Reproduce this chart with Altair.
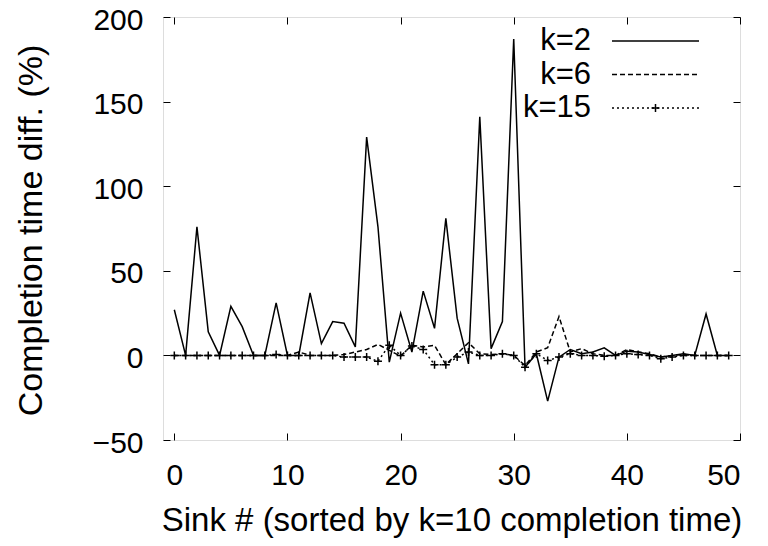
import altair as alt
import pandas as pd

# ---- data ----
sink = list(range(50))
k2 = [27, 0, 76, 14, 0, 29, 17, 0, 0, 31,
      0, 0, 37, 7, 20, 19, 5, 129, 76, -4,
      25, 2, 38, 16, 81, 22, -5, 141, 4, 20,
      187, -7, 1, -27, -1, 3.5, 1, 2, 4.5, 0,
      2.5, 2, 0.5, -1, 0, 1, 0, 24.5, 0, 0]
k6 = [0, 0, 0, 0, 0, 0, 0, 0, 0, 0,
      0, 2, 0, 0, 0, 0.5, 2, 3.5, 6.5, 3,
      -0.5, 6, 5, 6, -5.5, 1, 7.5, 1, 0.5, 1,
      0, -6, 2, 4.5, 23, 2, 4, 1, 0, 0,
      3.5, 2, 1, -1, 0, 0.5, 0, 0, 0, 0]
k15 = [0, 0, 0, 0, 0, 0, 0, 0, 0, 0.5,
       0, 0, 0, 0, 0, -1, -1, -1, -3.5, 6,
       0, 5.5, 3.5, -5.5, -5.5, -1, 2, 0, 0, 1,
       0, -7, 1, -3, -1, 1, 0, 0, -0.5, 0,
       1, 0.5, 0, -2, -1, 0, 0, 0, 0, 0]
xticks = [0, 10, 20, 30, 40, 50]
yticks = [-50, 0, 50, 100, 150, 200]
legend_labels = ["k=2", "k=6", "k=15"]

df = pd.DataFrame({"sink": sink, "k2": k2, "k6": k6, "k15": k15})

FONT = "Liberation Sans"
FS = 30
W, H = 577, 423
TL = 7

xs = alt.Scale(domain=[-1, 50], nice=False, zero=False)
ys = alt.Scale(domain=[-50, 200], nice=False, zero=False)

common = dict(domain=False, grid=False, tickSize=TL, offset=-TL, tickColor="black",
              tickWidth=1, labelFont=FONT, labelFontSize=FS, labelColor="black",
              titleFont=FONT, titleColor="black", titleFontWeight="normal")

x_main = alt.Axis(orient="bottom", values=xticks, labelPadding=20,
                  title="Sink # (sorted by k=10 completion time)", titlePadding=14,
                  titleFontSize=33, **common)
y_main = alt.Axis(orient="left", values=yticks, labelPadding=20, labelOffset=3,
                  title="Completion time diff. (%)", titlePadding=44, titleY=213,
                  titleFontSize=34, **common)
x_top = alt.Axis(orient="top", values=xticks, labels=False, title=None, **common)
y_right = alt.Axis(orient="right", values=yticks, labels=False, title=None, **common)

base = alt.Chart(df)

l_k2 = base.mark_line(color="black", strokeWidth=1.5).encode(
    x=alt.X("sink:Q", scale=xs, axis=x_main),
    y=alt.Y("k2:Q", scale=ys, axis=y_main),
)
l_k6 = base.mark_line(color="black", strokeWidth=1.5, strokeDash=[5, 3]).encode(
    x=alt.X("sink:Q", scale=xs, axis=x_top),
    y=alt.Y("k6:Q", scale=ys, axis=y_right),
)
l_k15 = base.mark_line(color="black", strokeWidth=1.5, strokeDash=[2, 3]).encode(
    x=alt.X("sink:Q", scale=xs, axis=None),
    y=alt.Y("k15:Q", scale=ys, axis=None),
)
CROSS = "M-1,0L1,0M0,-1L0,1"
p_k15 = base.mark_point(shape=CROSS, size=64, filled=False, color="black",
                        strokeWidth=1.5, opacity=1).encode(
    x=alt.X("sink:Q", scale=xs, axis=None),
    y=alt.Y("k15:Q", scale=ys, axis=None),
)

# ---- legend (top-right, text left of the sample) ----
leg_y = [24, 57.5, 91]
dashes = [None, [5, 3], [2, 3]]
legend_layers = []
for lab, yy, dsh in zip(legend_labels, leg_y, dashes):
    ldf = pd.DataFrame({"label": [lab]})
    legend_layers.append(
        alt.Chart(ldf).mark_text(font=FONT, fontSize=31, align="right",
                                 baseline="middle", color="black").encode(
            text="label:N", x=alt.value(428), y=alt.value(yy))
    )
    rule_kw = dict(color="black", strokeWidth=1.5)
    if dsh:
        rule_kw["strokeDash"] = dsh
    legend_layers.append(
        alt.Chart(ldf).mark_rule(**rule_kw).encode(
            x=alt.value(449), x2=alt.value(536), y=alt.value(yy))
    )
legend_layers.append(
    alt.Chart(pd.DataFrame({"label": [legend_labels[2]]})).mark_point(
        shape=CROSS, size=64, filled=False, color="black", strokeWidth=1.5, opacity=1
    ).encode(x=alt.value(492.5), y=alt.value(leg_y[2]))
)

chart = alt.layer(l_k2, l_k6, l_k15, p_k15, *legend_layers).resolve_axis(
    x="independent", y="independent"
).properties(
    width=W, height=H,
    autosize=alt.AutoSizeParams(type="none"),
    padding={"left": 155, "top": 9, "right": 20, "bottom": 98},
).configure_view(stroke="black", strokeWidth=1.5).configure(background="white")

chart.save("out.html", embed_options={"renderer": "svg", "actions": False})
